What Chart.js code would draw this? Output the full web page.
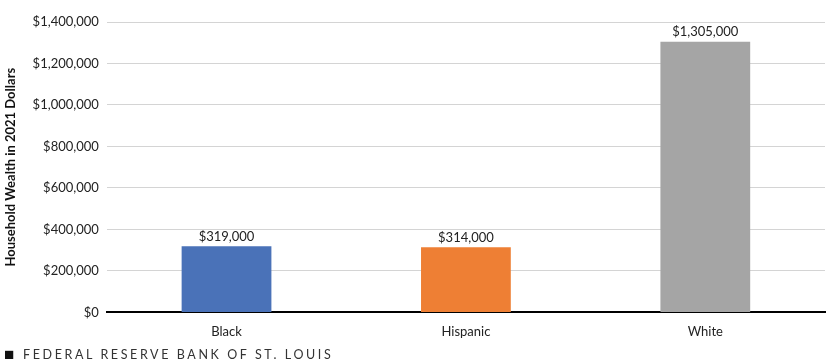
<!DOCTYPE html>
<html>
<head>
<meta charset="utf-8">
<script src="https://cdn.jsdelivr.net/npm/chart.js@4.4.0/dist/chart.umd.min.js"></script>
<style>
  body { margin: 0; background: #fff; font-family: Lato, "Noto Sans", sans-serif; }
  #wrap { position: relative; width: 827px; height: 344px; }
  #footer { position: absolute; left: 4px; top: 346px; font-size: 12.5px; letter-spacing: 2.6px; color: #333; font-family: Lato, sans-serif; line-height: 16px; }
  #footer span { font-size: 17px; margin-right: 3px; color: #111; letter-spacing: 0; vertical-align: -1px; }
</style>
</head>
<body>
<div id="wrap"><canvas id="barchart"></canvas></div>
<div id="footer"><span>&#9632;</span> FEDERAL RESERVE BANK OF ST. LOUIS</div>
<script>
var categories = ['Black', 'Hispanic', 'White'];
var wealth = [319000, 314000, 1305000];
var barColors = ['#4a72b8', '#ee7f34', '#a5a5a5'];
var tickValues = [0, 200000, 400000, 600000, 800000, 1000000, 1200000, 1400000];

function money(v) {
    return '$' + v.toLocaleString('en-US');
}

var valueLabels = {
    id: 'valueLabels',
    afterDatasetsDraw: function (chart) {
        var c = chart.ctx;
        var meta = chart.getDatasetMeta(0);
        c.save();
        c.font = '13px Lato, "Noto Sans", sans-serif';
        c.fillStyle = '#222';
        c.textAlign = 'center';
        c.textBaseline = 'bottom';
        meta.data.forEach(function (bar, i) {
            c.fillText(money(wealth[i]), bar.x, bar.y - 3);
        });
        c.restore();
    }
};

var ctx = document.getElementById('barchart').getContext('2d');
var myChart = new Chart(ctx, {
    type: 'bar',
    data: {
        labels: categories,
        datasets: [{
            label: 'Household Wealth',
            data: wealth,
            backgroundColor: barColors,
            barPercentage: 0.375,
            categoryPercentage: 1
        }]
    },
    options: {
        responsive: true,
        maintainAspectRatio: false,
        animation: false,
        layout: { padding: { top: 22, right: 2, left: 3, bottom: 0 } },
        plugins: {
            legend: { display: false },
            tooltip: { enabled: false }
        },
        scales: {
            x: {
                grid: { display: false },
                border: { color: '#000', width: 2 },
                ticks: { color: '#222', font: { size: 13, family: 'Lato' }, padding: 4 }
            },
            y: {
                min: 0,
                max: 1400000,
                afterBuildTicks: function (axis) {
                    axis.ticks = tickValues.map(function (v) { return { value: v }; });
                },
                grid: { color: '#d4d4d4', drawTicks: false },
                border: { display: false },
                ticks: {
                    color: '#222',
                    font: { size: 13, family: 'Lato' },
                    padding: 8,
                    callback: function (v) { return money(v); }
                },
                title: {
                    display: true,
                    text: 'Household Wealth in 2021 Dollars',
                    color: '#111',
                    font: { size: 13, weight: 'bold', family: 'Lato' },
                    padding: { top: 0, bottom: 6 }
                }
            }
        }
    },
    plugins: [valueLabels]
});
</script>
</body>
</html>
